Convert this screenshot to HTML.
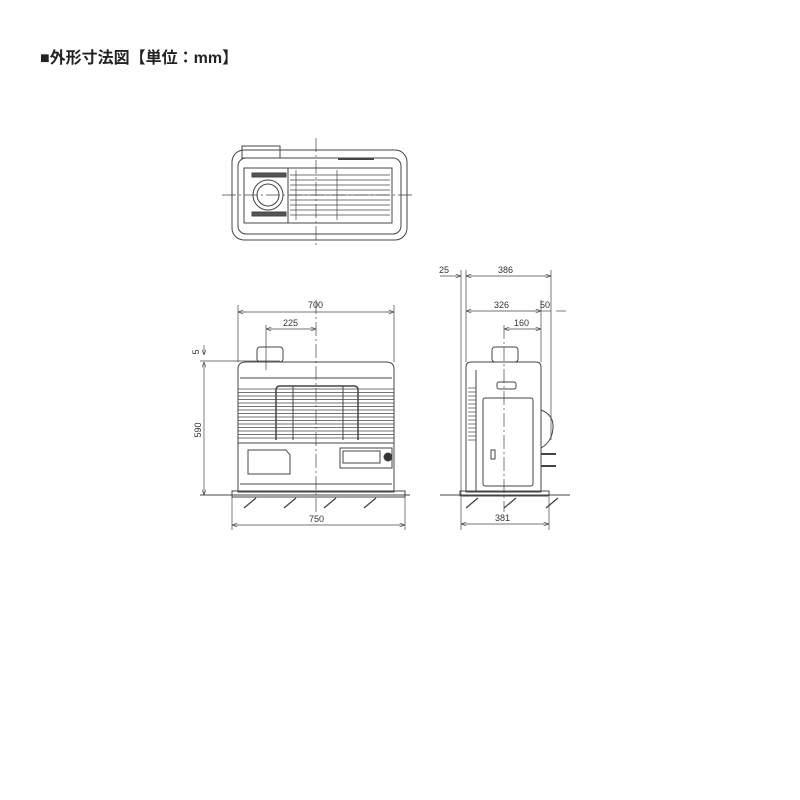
<!DOCTYPE html>
<html><head><meta charset="utf-8"><style>
body{margin:0;background:#fff}
svg{display:block}
text{font-family:"Liberation Sans",sans-serif;font-size:9px;fill:#333}
</style></head><body>
<svg width="800" height="800" viewBox="0 0 800 800" xmlns="http://www.w3.org/2000/svg">
<text x="40" y="63" style="font-family:'Liberation Sans','Noto Sans CJK JP',sans-serif;font-size:16px;font-weight:bold;fill:#222">■外形寸法図【単位：mm】</text>
<defs><marker id="a" markerWidth="8" markerHeight="6" refX="8" refY="3" orient="auto-start-reverse"><path d="M0,0 L8,3 L0,6" fill="none" stroke="#333" stroke-width="0.8"/></marker></defs>
<g stroke="#444" stroke-width="1" fill="none">
<!-- top view -->
<rect x="232" y="150" width="175" height="90" rx="12"/>
<rect x="238" y="158" width="163" height="76" rx="8"/>
<rect x="244" y="168" width="148" height="55"/>
<rect x="244" y="168" width="44" height="55"/>
<circle cx="268" cy="195" r="15"/><circle cx="268" cy="195" r="11"/>
<rect x="252" y="173" width="34" height="4" fill="#555"/>
<rect x="252" y="212" width="34" height="4" fill="#555"/>
<g stroke-width="0.7">
<line x1="290" y1="175" x2="390" y2="175"/><line x1="290" y1="180" x2="390" y2="180"/><line x1="290" y1="185" x2="390" y2="185"/><line x1="290" y1="190" x2="390" y2="190"/><line x1="290" y1="195" x2="390" y2="195"/><line x1="290" y1="200" x2="390" y2="200"/><line x1="290" y1="205" x2="390" y2="205"/><line x1="290" y1="210" x2="390" y2="210"/><line x1="290" y1="215" x2="390" y2="215"/>
<line x1="337" y1="170" x2="337" y2="220"/><line x1="296" y1="170" x2="296" y2="220"/>
</g>
<rect x="242" y="146" width="38" height="12"/>
<line x1="338" y1="159" x2="374" y2="159" stroke-width="2"/>
<!-- front view -->
<rect x="257" y="347" width="26" height="15" rx="3"/>
<path d="M238 369 Q238 362 246 362 L386 362 Q394 362 394 369 L394 492 L238 492 Z"/>
<line x1="240" y1="378" x2="392" y2="378"/>
<g stroke-width="0.8">
<line x1="238" y1="389" x2="394" y2="389"/><line x1="238" y1="392.5" x2="394" y2="392.5"/><line x1="238" y1="396" x2="394" y2="396"/><line x1="238" y1="399.5" x2="394" y2="399.5"/><line x1="238" y1="403" x2="394" y2="403"/><line x1="238" y1="406.5" x2="394" y2="406.5"/><line x1="238" y1="410" x2="394" y2="410"/><line x1="238" y1="413.5" x2="394" y2="413.5"/><line x1="238" y1="417" x2="394" y2="417"/><line x1="238" y1="420.5" x2="394" y2="420.5"/><line x1="238" y1="424" x2="394" y2="424"/><line x1="238" y1="427.5" x2="394" y2="427.5"/><line x1="238" y1="431" x2="394" y2="431"/><line x1="238" y1="434.5" x2="394" y2="434.5"/><line x1="238" y1="438" x2="394" y2="438"/>
</g>
<path d="M276 440 L276 390 Q276 386 280 386 L354 386 Q358 386 358 390 L358 440" stroke-width="1.5"/>
<line x1="293" y1="386" x2="293" y2="440"/><line x1="343" y1="386" x2="343" y2="440"/>
<line x1="238" y1="443" x2="394" y2="443"/>
<path d="M248 450 L286 450 L290 455 L290 474 L248 474 Z"/>
<rect x="340" y="448" width="52" height="20"/><rect x="343" y="451" width="37" height="12"/>
<circle cx="388" cy="457" r="4" fill="#333"/>
<line x1="240" y1="484" x2="392" y2="484"/>
<rect x="232" y="491" width="173" height="6"/>
<line x1="200" y1="495" x2="410" y2="495"/>
<g stroke-width="1.3"><line x1="244" y1="508" x2="256" y2="498"/><line x1="284" y1="508" x2="296" y2="498"/><line x1="324" y1="508" x2="336" y2="498"/><line x1="364" y1="508" x2="376" y2="498"/></g>
<!-- front dims -->
<g stroke-width="0.7">
<line x1="238" y1="305" x2="238" y2="362"/><line x1="394" y1="305" x2="394" y2="362"/>
<line x1="238" y1="312" x2="394" y2="312" marker-start="url(#a)" marker-end="url(#a)"/>
<line x1="266" y1="325" x2="266" y2="370"/>
<line x1="266" y1="329" x2="316" y2="329" marker-start="url(#a)" marker-end="url(#a)"/>
<line x1="200" y1="361" x2="280" y2="361"/>
<line x1="204" y1="345" x2="204" y2="355" marker-end="url(#a)"/>
<line x1="204" y1="362" x2="204" y2="495" marker-start="url(#a)" marker-end="url(#a)"/>
<line x1="232" y1="497" x2="232" y2="530"/><line x1="405" y1="497" x2="405" y2="530"/>
<line x1="232" y1="525" x2="405" y2="525" marker-start="url(#a)" marker-end="url(#a)"/>
<line x1="316" y1="138" x2="316" y2="248" stroke-dasharray="14 3 2 3"/>
<line x1="222" y1="195" x2="412" y2="195" stroke-dasharray="14 3 2 3"/>
<line x1="316" y1="300" x2="316" y2="515" stroke-dasharray="14 3 2 3"/>
</g>
<!-- side view -->
<rect x="492" y="347" width="26" height="15" rx="3"/>
<path d="M466 367 Q466 362 471 362 L536 362 Q541 362 541 367 L541 492 L466 492 Z"/>
<line x1="476" y1="370" x2="476" y2="492"/>
<rect x="497" y="382" width="19" height="7" rx="2"/>
<rect x="483" y="398" width="50" height="88" rx="2"/>
<rect x="491" y="450" width="4" height="9"/>
<g stroke-width="0.7"><line x1="468" y1="388" x2="476" y2="388"/><line x1="468" y1="392" x2="476" y2="392"/><line x1="468" y1="396" x2="476" y2="396"/><line x1="468" y1="400" x2="476" y2="400"/><line x1="468" y1="404" x2="476" y2="404"/><line x1="468" y1="408" x2="476" y2="408"/><line x1="468" y1="412" x2="476" y2="412"/><line x1="468" y1="416" x2="476" y2="416"/><line x1="468" y1="420" x2="476" y2="420"/><line x1="468" y1="424" x2="476" y2="424"/><line x1="468" y1="428" x2="476" y2="428"/><line x1="468" y1="432" x2="476" y2="432"/><line x1="468" y1="436" x2="476" y2="436"/><line x1="468" y1="440" x2="476" y2="440"/></g>
<path d="M541 410 Q554 415 553 428 Q552 442 541 448"/>
<path d="M541 454 L556 454 M541 466 L556 466" stroke-width="2"/>
<rect x="460" y="491" width="89" height="5"/>
<line x1="440" y1="495" x2="570" y2="495"/>
<g stroke-width="1.3"><line x1="466" y1="508" x2="478" y2="498"/><line x1="504" y1="508" x2="516" y2="498"/><line x1="546" y1="508" x2="558" y2="498"/></g>
<g stroke-width="0.7">
<line x1="461" y1="270" x2="461" y2="495"/><line x1="466" y1="270" x2="466" y2="362"/>
<line x1="551" y1="270" x2="551" y2="440"/><line x1="541" y1="300" x2="541" y2="362"/>
<line x1="440" y1="276" x2="461" y2="276" marker-end="url(#a)"/>
<line x1="466" y1="276" x2="551" y2="276" marker-start="url(#a)" marker-end="url(#a)"/>
<line x1="466" y1="311" x2="541" y2="311" marker-start="url(#a)" marker-end="url(#a)"/>
<line x1="556" y1="311" x2="566" y2="311"/><line x1="541" y1="311" x2="551" y2="311"/>
<line x1="504" y1="329" x2="541" y2="329" marker-start="url(#a)" marker-end="url(#a)"/>
<line x1="549" y1="497" x2="549" y2="530"/><line x1="461" y1="497" x2="461" y2="530"/>
<line x1="461" y1="524" x2="549" y2="524" marker-start="url(#a)" marker-end="url(#a)"/>
<line x1="504" y1="325" x2="504" y2="512" stroke-dasharray="14 3 2 3"/>
</g>
</g>
<text x="308" y="308">700</text>
<text x="283" y="326">225</text>
<text x="199" y="352" transform="rotate(-90 199 352)" text-anchor="middle">5</text>
<text x="201" y="430" transform="rotate(-90 201 430)" text-anchor="middle">590</text>
<text x="309" y="522">750</text>
<text x="439" y="273">25</text>
<text x="498" y="273">386</text>
<text x="494" y="308">326</text>
<text x="540" y="308">50</text>
<text x="514" y="326">160</text>
<text x="495" y="521">381</text>
</svg>
</body></html>
